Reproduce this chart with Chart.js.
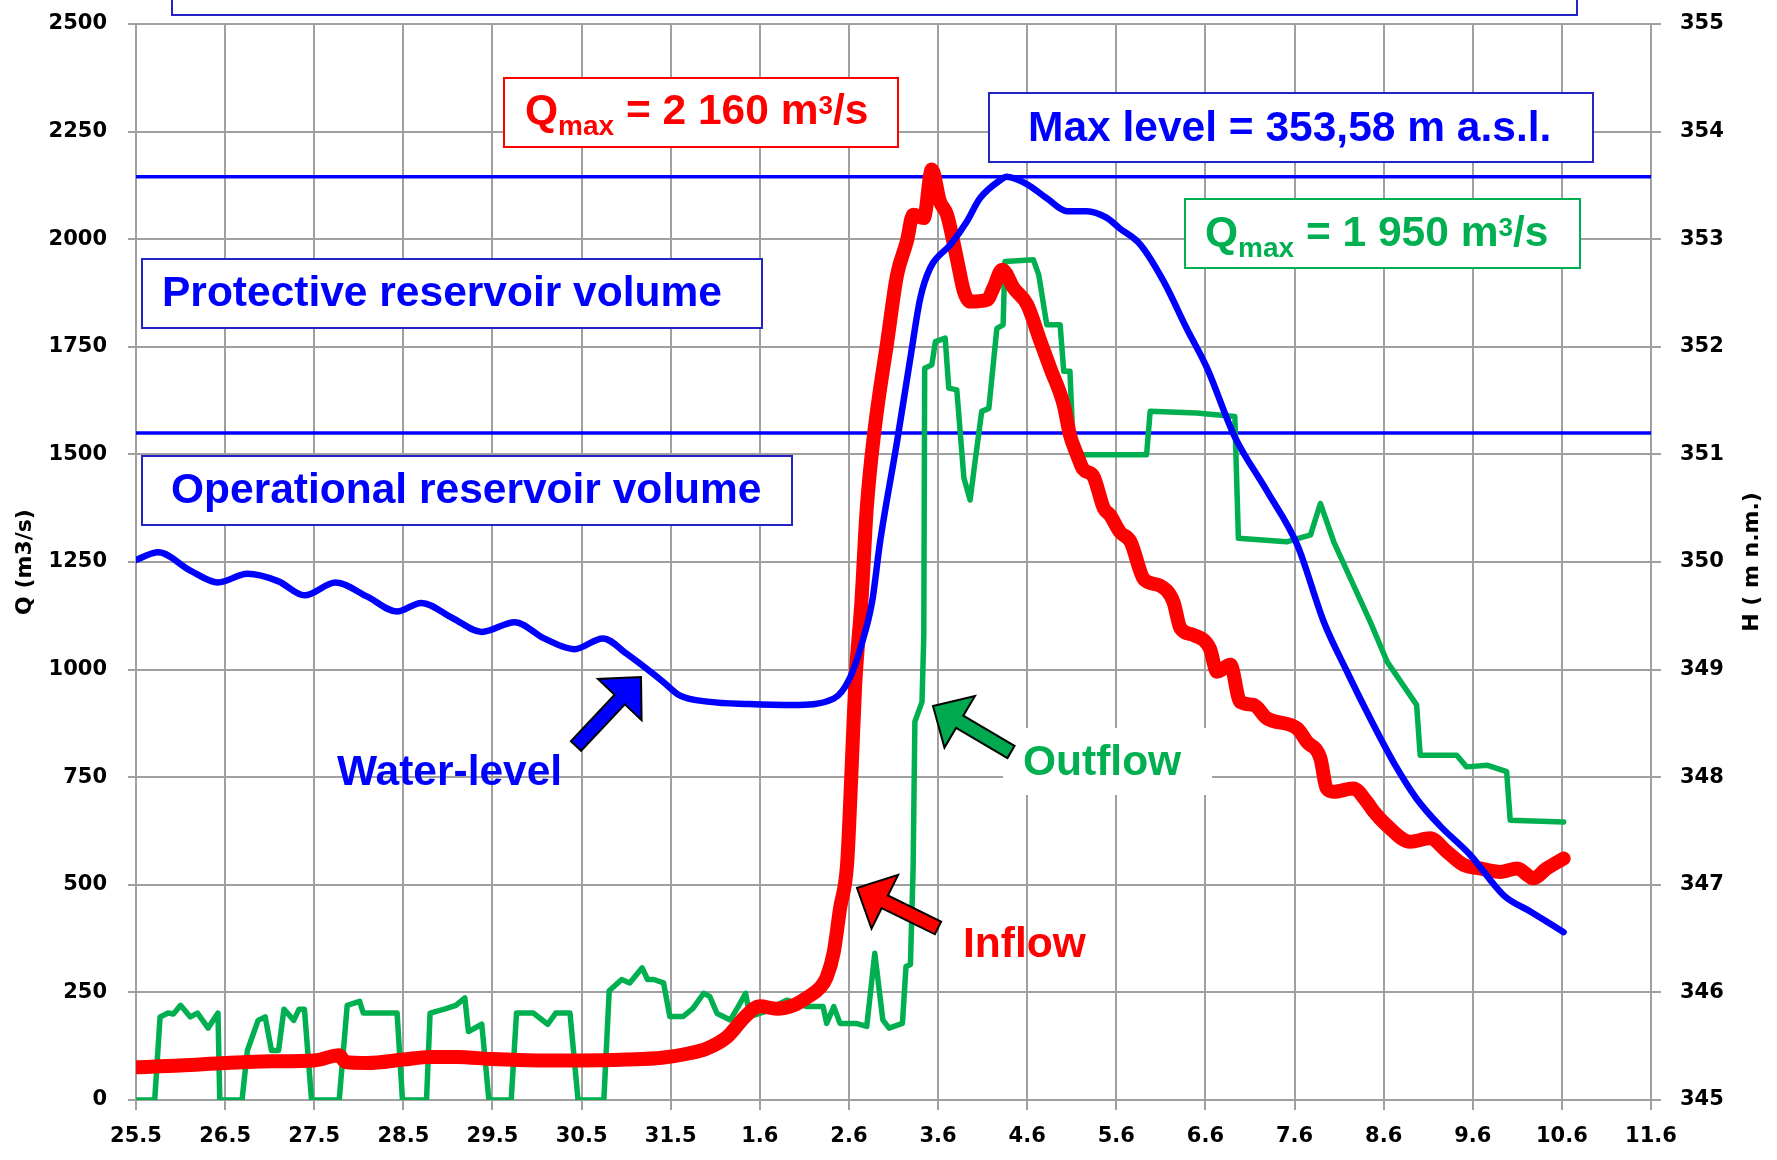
<!DOCTYPE html>
<html>
<head>
<meta charset="utf-8">
<script src="https://cdn.jsdelivr.net/npm/chart.js@4.4.0/dist/chart.umd.js"></script>
<style>
  html, body { margin: 0; padding: 0; background: #fff; }
  #wrap { width: 1777px; height: 1160px; }
</style>
</head>
<body>
<div id="wrap"><canvas id="flood" width="1777" height="1160"></canvas></div>
<script>
// x axis: one step per day, labelled day.month
const dayLabels = ['25.5', '26.5', '27.5', '28.5', '29.5', '30.5', '31.5', '1.6', '2.6',
  '3.6', '4.6', '5.6', '6.6', '7.6', '8.6', '9.6', '10.6', '11.6'];

// water level H (m n.m.), right axis
const levelDays = [0, 0.25, 0.61, 0.92, 1.25, 1.6, 1.89, 2.24, 2.59, 2.93, 3.2, 3.55, 3.88, 4.25,
  4.58, 4.92, 5.24, 5.5, 5.91, 6.1, 6.44, 6.87, 7.37, 7.83, 8.01, 8.14, 8.26, 8.35, 8.54, 8.69,
  8.8, 8.91, 9.14, 9.32, 9.47, 9.7, 9.77, 10.0, 10.22, 10.45, 10.67, 10.89, 11.04, 11.27, 11.53,
  11.79, 12.02, 12.32, 12.69, 13.03, 13.33, 13.59, 13.81, 14.11, 14.37, 14.63, 14.97, 15.35,
  15.65, 16.02];
const levelH = [350.02, 350.09, 349.92, 349.81, 349.89, 349.82, 349.69, 349.81, 349.68, 349.54,
  349.62, 349.48, 349.35, 349.44, 349.29, 349.19, 349.29, 349.15, 348.89, 348.76, 348.70, 348.68,
  348.67, 348.73, 348.92, 349.23, 349.63, 350.19, 351.12, 351.90, 352.45, 352.73, 352.95, 353.16,
  353.38, 353.55, 353.58, 353.51, 353.38, 353.26, 353.26, 353.20, 353.10, 352.95, 352.61, 352.17,
  351.80, 351.18, 350.66, 350.16, 349.44, 348.98, 348.61, 348.14, 347.80, 347.55, 347.28, 346.90,
  346.75, 346.56];

// inflow Q (m3/s)
const inflowDays = [0, 0.5, 1.0, 1.5, 2.0, 2.28, 2.35, 2.6, 3.0, 3.3, 3.6, 4.0, 4.5, 5.0, 5.5, 5.9,
  6.2, 6.4, 6.63, 6.85, 7.0, 7.19, 7.38, 7.53, 7.68, 7.75, 7.83, 7.9, 7.98, 8.03, 8.07, 8.14, 8.2,
  8.29, 8.43, 8.54, 8.65, 8.72, 8.84, 8.93, 9.02, 9.1, 9.21, 9.29, 9.36, 9.55, 9.62, 9.72, 9.85,
  10.0, 10.15, 10.26, 10.41, 10.48, 10.56, 10.63, 10.74, 10.86, 10.93, 11.04, 11.16, 11.31, 11.49,
  11.64, 11.72, 11.87, 12.05, 12.13, 12.28, 12.39, 12.54, 12.69, 13.03, 13.14, 13.29, 13.36, 13.44,
  13.66, 13.81, 13.89, 14.03, 14.3, 14.52, 14.71, 14.9, 15.08, 15.31, 15.5, 15.68, 15.83, 16.02];
const inflowQ = [76, 80, 86, 90, 92, 104, 88, 86, 94, 100, 100, 95, 92, 92, 94, 98, 108, 119, 146,
  197, 218, 212, 220, 238, 262, 285, 344, 445, 550, 770, 964, 1158, 1375, 1561, 1762, 1917, 1995,
  2057, 2049, 2162, 2088, 2057, 1956, 1879, 1855, 1859, 1886, 1929, 1886, 1848, 1762, 1700, 1615,
  1545, 1499, 1465, 1450, 1375, 1359, 1320, 1297, 1210, 1195, 1158, 1096, 1080, 1049, 995, 1011,
  925, 918, 887, 863, 832, 794, 724, 716, 724, 693, 670, 639, 600, 608, 577, 546, 538, 530, 538,
  515, 538, 561];

// outflow Q (m3/s)
const outflowDays = [0, 0.21, 0.27, 0.36, 0.42, 0.5, 0.61, 0.69, 0.81, 0.92, 0.94, 1.19, 1.25, 1.37,
  1.45, 1.52, 1.6, 1.66, 1.77, 1.83, 1.89, 1.97, 2.28, 2.37, 2.51, 2.55, 2.93, 2.99, 3.26, 3.3,
  3.46, 3.59, 3.69, 3.73, 3.88, 3.96, 4.21, 4.27, 4.46, 4.62, 4.71, 4.87, 4.96, 5.25, 5.31, 5.45,
  5.54, 5.68, 5.74, 5.81, 5.92, 5.99, 6.14, 6.25, 6.37, 6.44, 6.52, 6.67, 6.78, 6.84, 6.89, 7.05,
  7.3, 7.53, 7.71, 7.75, 7.83, 7.9, 8.08, 8.2, 8.29, 8.38, 8.45, 8.6, 8.64, 8.69, 8.72, 8.74, 8.82,
  8.84, 8.85, 8.93, 8.97, 9.08, 9.12, 9.21, 9.29, 9.36, 9.42, 9.49, 9.57, 9.66, 9.73, 9.75, 10.07,
  10.13, 10.22, 10.37, 10.41, 10.48, 10.52, 11.34, 11.38, 11.9, 12.33, 12.37, 12.91, 13.18, 13.29,
  13.44, 13.85, 14.04, 14.37, 14.41, 14.82, 14.93, 15.16, 15.38, 15.42, 16.02];
const outflowQ = [0, 0, 193, 202, 200, 220, 193, 202, 167, 202, 0, 0, 115, 185, 193, 115, 115, 211,
  185, 211, 211, 0, 0, 220, 229, 202, 202, 0, 0, 202, 211, 220, 237, 159, 176, 0, 0, 202, 202, 176,
  202, 202, 0, 0, 254, 280, 272, 307, 280, 280, 272, 194, 194, 213, 248, 240, 201, 186, 225, 248,
  194, 205, 232, 217, 217, 178, 217, 178, 178, 171, 341, 186, 167, 178, 310, 315, 538, 879, 925,
  1080, 1700, 1708, 1762, 1770, 1654, 1650, 1445, 1394, 1491, 1600, 1607, 1793, 1801, 1948, 1952,
  1917, 1801, 1801, 1693, 1693, 1499, 1499, 1600, 1596, 1588, 1305, 1297, 1313, 1386, 1297, 1111,
  1018, 918, 801, 801, 774, 778, 763, 650, 646];

// reservoir volume limits (m n.m.): operational top, protective top (max level)
const volumeLimits = [351.2, 353.58];

const BLUE = '#0000ff';
const RED = '#ff0000';
const GREEN = '#00b050';
const GRID = '#a0a0a0';
const TEXT_FONT = "'Liberation Sans', Arial, sans-serif";
const TICK_FONT = "'DejaVu Sans', sans-serif";
const BIG = 42.5;

function pairs(xs, ys) {
  return xs.map((x, i) => ({ x: x, y: ys[i] }));
}

function drawArrow(ctx, tail, tip, color) {
  const dx = tip[0] - tail[0], dy = tip[1] - tail[1];
  const len = Math.hypot(dx, dy);
  const ux = dx / len, uy = dy / len;
  const px = -uy, py = ux;
  const head = 31, hw = 30, sw = 7;
  const bx = tip[0] - ux * head, by = tip[1] - uy * head;
  ctx.beginPath();
  ctx.moveTo(tail[0] + px * sw, tail[1] + py * sw);
  ctx.lineTo(bx + px * sw, by + py * sw);
  ctx.lineTo(bx + px * hw, by + py * hw);
  ctx.lineTo(tip[0], tip[1]);
  ctx.lineTo(bx - px * hw, by - py * hw);
  ctx.lineTo(bx - px * sw, by - py * sw);
  ctx.lineTo(tail[0] - px * sw, tail[1] - py * sw);
  ctx.closePath();
  ctx.fillStyle = color;
  ctx.fill();
  ctx.lineWidth = 2;
  ctx.strokeStyle = '#000';
  ctx.lineJoin = 'miter';
  ctx.stroke();
}

function drawBox(ctx, x1, y1, x2, y2, stroke) {
  ctx.fillStyle = '#fff';
  ctx.fillRect(x1, y1, x2 - x1, y2 - y1);
  ctx.lineWidth = 2;
  ctx.strokeStyle = stroke;
  ctx.strokeRect(x1, y1, x2 - x1, y2 - y1);
}

function drawQmax(ctx, x, y, num, color) {
  ctx.fillStyle = color;
  ctx.textAlign = 'left';
  ctx.textBaseline = 'alphabetic';
  const parts = [
    ['Q', BIG, 0], ['max', 28, 11], [' = ' + num + ' m', BIG, 0], ['3', 26, -10], ['/s', BIG, 0]
  ];
  parts.forEach(([t, size, dy]) => {
    ctx.font = 'bold ' + size + 'px ' + TEXT_FONT;
    ctx.fillText(t, x, y + dy);
    x += ctx.measureText(t).width;
  });
}

const annotations = {
  id: 'annotations',
  afterDatasetsDraw(chart) {
    const ctx = chart.ctx;
    ctx.save();

    // box cut off at the top edge
    drawBox(ctx, 172, -10, 1577, 15, '#2323c8');

    drawBox(ctx, 142, 259, 762, 328, '#2323c8');
    drawBox(ctx, 142, 456, 792, 525, '#2323c8');
    drawBox(ctx, 504, 78, 898, 147, RED);
    drawBox(ctx, 989, 93, 1593, 162, '#2323c8');
    drawBox(ctx, 1185, 199, 1580, 268, GREEN);

    ctx.textAlign = 'left';
    ctx.textBaseline = 'alphabetic';
    ctx.font = 'bold ' + BIG + 'px ' + TEXT_FONT;
    ctx.fillStyle = BLUE;
    ctx.fillText('Protective reservoir volume', 162, 306);
    ctx.fillText('Operational reservoir volume', 171, 503);
    ctx.fillText('Max level = 353,58 m a.s.l.', 1028, 141);
    ctx.fillText('Water-level', 337, 785);

    drawQmax(ctx, 525, 124, '2 160', RED);
    drawQmax(ctx, 1205, 246, '1 950', GREEN);

    // white patch behind the outflow label
    ctx.fillStyle = '#fff';
    ctx.fillRect(1003, 728, 209, 67);
    ctx.font = 'bold ' + BIG + 'px ' + TEXT_FONT;
    ctx.fillStyle = GREEN;
    ctx.fillText('Outflow', 1023, 775);
    ctx.fillStyle = RED;
    ctx.fillText('Inflow', 963, 957);

    drawArrow(ctx, [576, 746], [641, 677], BLUE);
    drawArrow(ctx, [1011, 752], [933, 706], '#00a84f');
    drawArrow(ctx, [938, 928], [857, 888], RED);

    ctx.restore();
  },
  afterDraw(chart) {
    const ctx = chart.ctx;
    const area = chart.chartArea;
    const midY = (area.top + area.bottom) / 2;
    [['Q (m3/s)', 25], ['H ( m n.m.)', 1752]].forEach(([txt, x]) => {
      ctx.save();
      ctx.font = 'bold 22px ' + TICK_FONT;
      ctx.fillStyle = '#000';
      ctx.textAlign = 'center';
      ctx.textBaseline = 'middle';
      ctx.translate(x, midY);
      ctx.rotate(-Math.PI / 2);
      ctx.fillText(txt, 0, 0);
      ctx.restore();
    });
  }
};

const tickFont = { family: TICK_FONT, size: 21, weight: 'bold' };

// fixed axis sizes so the plot area lands where the reference has it
function fixWidth(w) {
  return s => { s.width = w; s.paddingTop = 0; s.paddingBottom = 0; };
}

new Chart(document.getElementById('flood'), {
  type: 'line',
  data: {
    datasets: [
      {
        label: 'Water-level',
        data: pairs(levelDays, levelH),
        yAxisID: 'y1',
        borderColor: BLUE,
        borderWidth: 6.5,
        cubicInterpolationMode: 'monotone',
        pointRadius: 0,
        borderCapStyle: 'round',
        borderJoinStyle: 'round',
        order: 0
      },
      {
        label: 'Inflow',
        data: pairs(inflowDays, inflowQ),
        yAxisID: 'y',
        borderColor: RED,
        borderWidth: 14,
        cubicInterpolationMode: 'monotone',
        pointRadius: 0,
        borderCapStyle: 'round',
        borderJoinStyle: 'round',
        order: 1
      },
      {
        label: 'Outflow',
        data: pairs(outflowDays, outflowQ),
        yAxisID: 'y',
        borderColor: GREEN,
        borderWidth: 5.5,
        tension: 0,
        pointRadius: 0,
        borderCapStyle: 'round',
        borderJoinStyle: 'round',
        order: 2
      },
      ...volumeLimits.map((h, i) => ({
        label: 'limit' + i,
        data: [{ x: 0, y: h }, { x: dayLabels.length - 1, y: h }],
        yAxisID: 'y1',
        borderColor: BLUE,
        borderWidth: 3.5,
        pointRadius: 0,
        order: 3
      }))
    ]
  },
  options: {
    responsive: false,
    animation: false,
    devicePixelRatio: 1,
    layout: { padding: { top: 24, left: 0, right: 0, bottom: 0 } },
    plugins: {
      legend: { display: false },
      tooltip: { enabled: false },
      title: { display: false }
    },
    scales: {
      x: {
        type: 'linear',
        min: 0,
        max: dayLabels.length - 1,
        ticks: {
          stepSize: 1,
          autoSkip: false,
          maxRotation: 0,
          padding: 14,
          color: '#000',
          font: tickFont,
          callback: v => dayLabels[v] ?? ''
        },
        grid: { color: GRID, lineWidth: 2, tickLength: 10 },
        border: { color: GRID, width: 2 },
        afterFit: s => { s.height = 60; s.paddingLeft = 0; s.paddingRight = 0; }
      },
      y: {
        type: 'linear',
        position: 'left',
        min: 0,
        max: 2500,
        ticks: { stepSize: 250, padding: 21, color: '#000', font: tickFont, callback: v => String(v) },
        grid: { color: GRID, lineWidth: 2, tickLength: 8 },
        border: { color: GRID, width: 2 },
        afterFit: fixWidth(136)
      },
      y1: {
        type: 'linear',
        position: 'right',
        min: 345,
        max: 355,
        ticks: { stepSize: 1, padding: 19, color: '#000', font: tickFont, callback: v => String(v) },
        grid: { color: GRID, lineWidth: 2, tickLength: 10, drawOnChartArea: false },
        border: { color: GRID, width: 2 },
        afterFit: fixWidth(126)
      }
    }
  },
  plugins: [annotations]
});
</script>
</body>
</html>
